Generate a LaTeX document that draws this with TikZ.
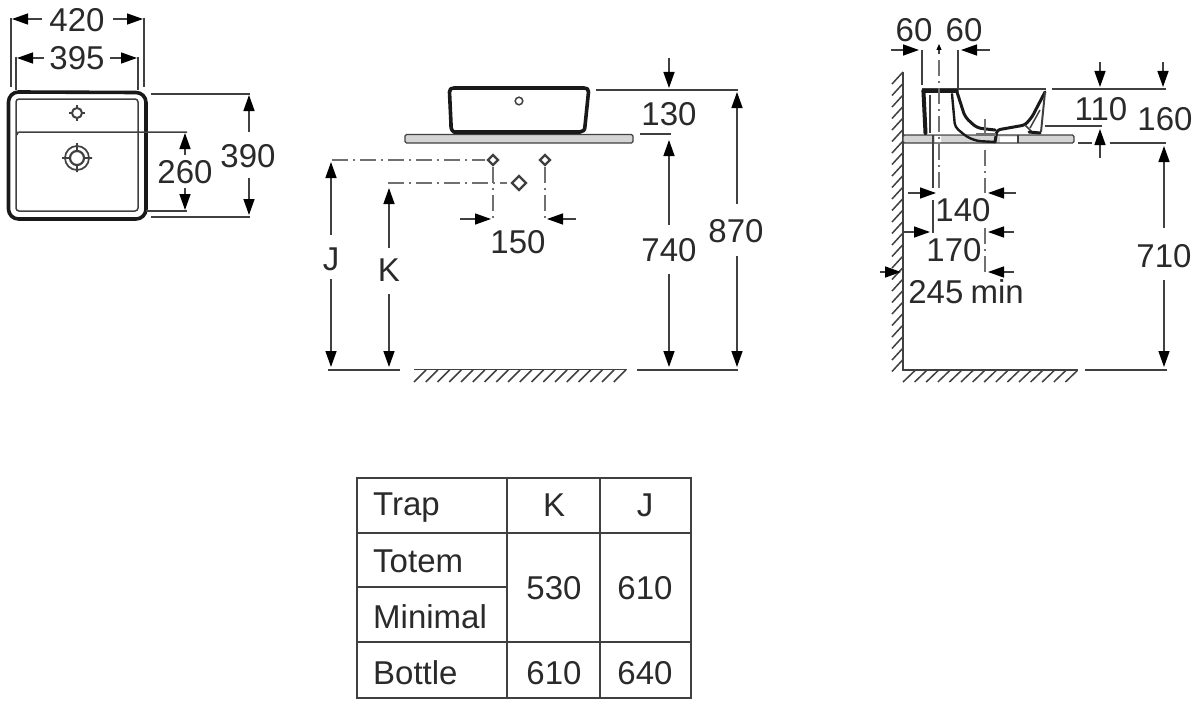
\documentclass[tikz,border=0pt]{standalone}
\usepackage{fontspec}
\setmainfont{Liberation Sans}
\usetikzlibrary{arrows.meta}
\definecolor{ink}{HTML}{2A2A2A}
\definecolor{thin}{HTML}{404040}
\definecolor{soft}{HTML}{707070}
\definecolor{slab}{HTML}{D4D4D4}
\tikzset{
  dim/.style={draw=thin,line width=1.4pt},
  arr/.style={draw=thin,line width=1.4pt,-{Triangle[length=16pt,width=11pt,color=black]}},
  smallarr/.style={draw=thin,line width=1.1pt,-{Triangle[length=6pt,width=5pt,color=black]}},
  axisline/.style={draw=soft,line width=1.5pt,dash pattern=on 16pt off 5pt on 2pt off 5pt},
  heavy/.style={draw=black!90,line width=3.6pt,line join=round,line cap=round},
  fine/.style={draw=thin,line width=1.5pt},
  lab/.style={text=ink,inner sep=0pt,font=\fontsize{33}{33}\selectfont},
  tablab/.style={lab,anchor=west},
  hatchline/.style={draw=thin,line width=1.5pt},
  grid/.style={draw=thin,line width=1.5pt},
  slabbox/.style={draw=thin,line width=1.3pt,fill=slab,rounded corners=1.5pt},
  hole/.style={draw=thin,line width=1.5pt,fill=white}
}
\begin{document}
\begin{tikzpicture}[x=1pt,y=-1pt]
\useasboundingbox (0,0) rectangle (1200,701);
% ---------- plan view
\draw[dim] (11,18)--(11,87) (144,18)--(144,87) (16,57)--(16,90) (138,57)--(138,90);
\draw[arr] (42,19)--(12,19); \draw[arr] (113,19)--(143,19);
\draw[arr] (44,58)--(17,58); \draw[arr] (110,58)--(137,58);
\node[lab] (t420) at (77,20) {420};
\node[lab] (t395) at (77,58) {395};
\draw[heavy] (8.5,102) arc[start angle=180,end angle=270,radius=10] -- (136,92.5) arc[start angle=270,end angle=360,radius=10] -- (146,209) arc[start angle=0,end angle=90,radius=10] -- (18.5,219) arc[start angle=90,end angle=180,radius=10] -- cycle;
\draw[fine,rounded corners=3pt] (16,99) rectangle (138,211);
\draw[fine] (17,135) .. controls (17,132) and (18,132) .. (21,132) -- (187,132);
\draw[dim] (146,211)--(187,211) (151,94)--(250,94) (151,217)--(250,217);
\draw[arr] (185,155)--(185,133); \draw[arr] (185,188)--(185,210);
\draw[arr] (249,132)--(249,95); \draw[arr] (249,178)--(249,215);
\node[lab] (t260) at (185,172) {260};
\node[lab] (t390) at (248,156) {390};
\draw[fine] (69,113)--(85,113) (77,105)--(77,121);
\draw[hole,line width=2pt] (77,113) circle (5);
\draw[draw=thin,line width=1.7pt] (77,158) circle (12) (62,158)--(92,158) (77,143)--(77,172);
\draw[hole,line width=2.2pt] (77,158) circle (7);
% ---------- front view
\draw[slabbox] (405,134.5) rectangle (633,143);
\draw[heavy] (454,132) .. controls (451,130) and (451,128) .. (451,124) -- (449.5,92) .. controls (449.5,89) and (451,88) .. (454,88) -- (584,88) .. controls (587,88) and (588.5,89) .. (588.5,92) -- (585,126) .. controls (585,130) and (583,132) .. (580,132) -- cycle;
\draw[hole] (519,101) circle (3.8);
\draw[dim] (596,90)--(738,90) (640,134)--(671,134);
\draw[arr] (669,58)--(669,88);
\node[lab] (t130) at (669,114) {130};
\draw[arr] (669,225)--(669,140); \draw[arr] (669,274)--(669,367);
\node[lab] (t740) at (669,250) {740};
\draw[arr] (737,204)--(737,92); \draw[arr] (737,256)--(737,367);
\node[lab] (t870) at (736,231) {870};
\draw[dim] (328,370)--(400,370) (637,370)--(738,370);
\draw[hatchline] (414,369.5)--(627,369.5);
\foreach \x in {426,437.75,...,627} \draw[hatchline] (\x,370)--(\x-12,382);
\draw[arr] (331,235)--(331,162); \draw[arr] (331,279)--(331,367);
\node[lab] (tJ) at (331,259) {J};
\draw[arr] (389,248)--(389,188); \draw[arr] (389,294)--(389,367);
\node[lab] (tK) at (389,270) {K};
\draw[axisline] (332,160)--(485,160);
\draw[axisline] (388,183)--(507,183);
\draw[axisline] (493,167)--(493,220);
\draw[axisline] (545,167)--(545,220);
\foreach \c/\r in {493/5,545/5} {\draw[fine,line width=2.2pt,fill=white] (\c-\r,160)--(\c,160-\r)--(\c+\r,160)--(\c,160+\r)--cycle;}
\draw[fine,line width=2.2pt,fill=white] (512,183)--(519,176)--(526,183)--(519,190)--cycle;
\draw[arr] (460,219)--(491,219); \draw[arr] (576,219)--(547,219);
\node[lab] (t150) at (518,242) {150};
% ---------- side view
\draw[hatchline,line width=1.8pt] (903,72)--(903,370)--(1078,370);
\foreach \y in {72,83.5,...,368} \draw[hatchline] (903,\y)--(892,\y+12);
\foreach \x in {915,926.6,...,1080} \draw[hatchline] (\x,370.5)--(\x-12,382);
\draw[slabbox] (903,135) rectangle (1074,143);
\fill[white] (935,136) rectangle (941,142) (1000,136.5) rectangle (1018,142);
\draw[fine] (1018,135)--(1018,143) (933,135)--(933,143);
% basin section
\fill[white] (927,93) -- (958,93) -- (965,117) -- (977,128) -- (995,130) -- (995,134) -- (955,134) -- (927,134) -- cycle;
\draw[draw=thin,line width=1.7pt] (922,89)--(1046,89);
\draw[heavy,line width=4pt] (923.5,92) -- (925.5,133);
\draw[fine,line width=2pt] (930,95) -- (930,133);
\draw[heavy,line width=3.5pt] (923,91) -- (957,91);
\draw[heavy,line width=3pt,rounded corners=5pt] (957,92) -- (965,117) -- (977,128) -- (995,130);
\draw[heavy,line width=2.4pt,rounded corners=4pt] (952,94) -- (955,127) -- (967,137) -- (977,141) -- (995,142);
\draw[heavy,line width=3pt,rounded corners=3pt] (995,142) -- (997,130) -- (1025,125) -- (1032,117) -- (1045,92);
\draw[fine,line width=2pt] (1045,92) -- (1041,132);
\draw[fine,line width=1.5pt] (1025,125) -- (1032,132) (1030,128) -- (1040,110);
\draw[heavy,line width=3pt] (1029,132) -- (1040,133);
\draw[soft,line width=3pt] (976,134) -- (996,134);
% dimensions
\node[lab] (t60a) at (914,30) {60};
\node[lab] (t60b) at (964,30) {60};
\draw[arr] (891,50)--(919,50); \draw[arr] (990,50)--(961,50);
\draw[dim] (922,50)--(922,85) (958,50)--(958,88);
\draw[smallarr] (939,54)--(939,44);
\draw[axisline] (939,60)--(939,188);
\draw[axisline] (985,119)--(985,135);
\draw[axisline] (985,150)--(985,193);
\draw[axisline] (985,228)--(985,272);
\draw[dim] (933,143)--(933,188) (933,200)--(933,233);
\draw[arr] (908,193)--(936,193); \draw[arr] (1016,193)--(988,193);
\node[lab] (t140) at (963,210) {140};
\draw[arr] (904,232)--(930,232); \draw[arr] (1014,232)--(988,232);
\node[lab] (t170) at (954,250) {170};
\draw[arr] (880,272)--(901,272); \draw[arr] (1014,272)--(988,272);
\node[lab] (t245) at (966,292) {245\hspace{-2pt} min};
\draw[dim] (1052,89)--(1166,89) (1045,126)--(1102,126) (1078,143)--(1092,143) (1110,143)--(1166,143) (1085,370)--(1167,370);
\draw[arr] (1100,62)--(1100,87); \draw[arr] (1163,62)--(1163,87);
\draw[arr] (1100,158)--(1100,129);
\node[lab] (t110) at (1101,109) {110};
\node[lab] (t160) at (1165,119) {160};
\draw[arr] (1164,228)--(1164,146); \draw[arr] (1164,280)--(1164,367);
\node[lab] (t710) at (1164,256) {710};
% ---------- table
\draw[grid] (357,478) rectangle (691,698);
\draw[grid] (507,478)--(507,698) (600,478)--(600,698) (357,533)--(691,533) (357,642)--(691,642) (357,587)--(507,587);
\node[tablab] (trap) at (373,508) {Trap};
\node[lab] (hK) at (554,505) {K};
\node[lab] (hJ) at (645,505) {J};
\node[tablab] (totem) at (373,561) {Totem};
\node[tablab] (minimal) at (373,617) {Minimal};
\node[tablab] (bottle) at (373,673) {Bottle};
\node[lab] (a) at (554,588) {530};
\node[lab] (b) at (645,588) {610};
\node[lab] (c) at (554,673) {610};
\node[lab] (d) at (645,673) {640};
\end{tikzpicture}
\end{document}
